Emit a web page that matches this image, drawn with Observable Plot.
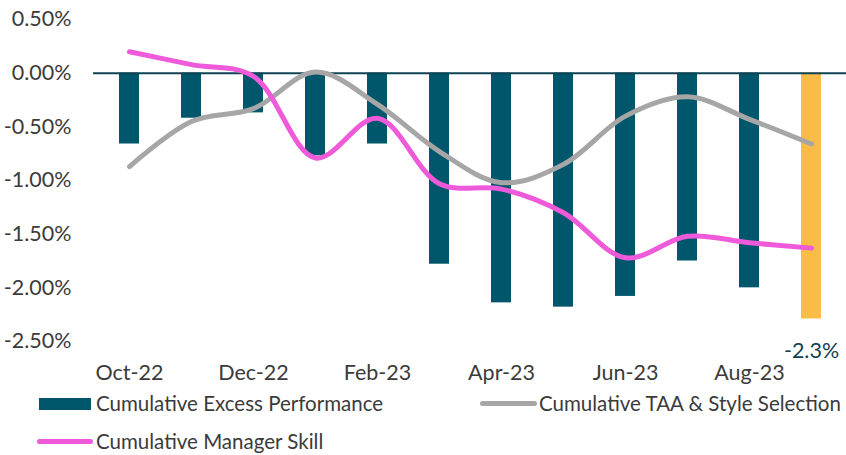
<!DOCTYPE html>
<html>
<head>
<meta charset="utf-8">
<script src="https://cdn.jsdelivr.net/npm/d3@7"></script>
<script src="https://cdn.jsdelivr.net/npm/@observablehq/plot@0.6"></script>
<style>
  html, body { margin: 0; padding: 0; background: #fff; }
  body { width: 846px; height: 455px; overflow: hidden; font-family: Lato, "Noto Sans", sans-serif; }
  #chart svg { display: block; }
  #legend { position: relative; height: 63px; font-size: 20.5px; color: #3b3b3b; }
  .item { position: absolute; display: flex; align-items: center; white-space: nowrap; line-height: 25px; }
  .sw { display: inline-block; }
</style>
</head>
<body>
<div id="chart"></div>
<div id="legend">
  <div class="item" style="left:39px; top:-1px;"><span class="sw" style="width:52px;height:12px;background:#00566A;margin-right:5px"></span>Cumulative Excess Performance</div>
  <div class="item" style="left:480px; top:-1px;"><span class="sw" style="width:57px;height:5px;border-radius:3px;background:#A6A6A6;margin-right:2px"></span>Cumulative TAA &amp; Style Selection</div>
  <div class="item" style="left:37px; top:37px;"><span class="sw" style="width:56px;height:5px;border-radius:3px;background:#EE5AD9;margin-right:3px"></span>Cumulative Manager Skill</div>
</div>
<script>
const months = ["Oct-22","Nov-22","Dec-22","Jan-23","Feb-23","Mar-23","Apr-23","May-23","Jun-23","Jul-23","Aug-23","Sep-23"];
const excess = [-0.66, -0.42, -0.37, -0.77, -0.66, -1.78, -2.14, -2.18, -2.08, -1.75, -2.00, -2.29];
const taa = [-0.87, -0.45, -0.33, 0.01, -0.29, -0.73, -1.02, -0.85, -0.40, -0.22, -0.43, -0.66];
const skill = [0.20, 0.08, -0.03, -0.79, -0.42, -1.03, -1.08, -1.30, -1.72, -1.52, -1.58, -1.63];
const xTicks = ["Oct-22","Dec-22","Feb-23","Apr-23","Jun-23","Aug-23"];
const yTicks = [0.5, 0, -0.5, -1, -1.5, -2, -2.5];
const lastLabel = "-2.3%";

const bars = months.map((m, i) => ({month: m, value: excess[i], last: i === months.length - 1}));
const taaData = months.map((m, i) => ({month: m, value: taa[i]}));
const skillData = months.map((m, i) => ({month: m, value: skill[i]}));

const chart = Plot.plot({
  width: 846,
  height: 392,
  marginLeft: 93,
  marginRight: 0,
  marginTop: 19,
  marginBottom: 51,
  style: {fontFamily: "Lato, 'Noto Sans', sans-serif", fontSize: "21.5px", color: "#3b3b3b", background: "#fff"},
  x: {domain: months, paddingInner: 0.68, paddingOuter: 0.34, align: 0.5},
  y: {domain: [-2.5, 0.5]},
  marks: [
    Plot.barY(bars, {x: "month", y: "value", fill: d => d.last ? "#F9BC47" : "#00566A"}),
    Plot.ruleY([0], {stroke: "#0E4354", strokeWidth: 2}),
    Plot.lineY(taaData, {x: "month", y: "value", stroke: "#A6A6A6", strokeWidth: 5, curve: "catmull-rom", strokeLinecap: "round"}),
    Plot.lineY(skillData, {x: "month", y: "value", stroke: "#EE5AD9", strokeWidth: 5, curve: "catmull-rom", strokeLinecap: "round"}),
    Plot.text([bars[bars.length - 1]], {x: "month", y: "value", text: () => lastLabel, dy: 32, fill: "#0E4354", fontSize: 21.5}),
    Plot.axisX({ticks: xTicks, tickSize: 0, tickPadding: 23, fontSize: 21.5, fill: "#3b3b3b", label: null}),
    Plot.axisY({ticks: yTicks, tickSize: 0, tickPadding: 22, tickFormat: d => d.toFixed(2) + "%", fontSize: 21.5, fill: "#3b3b3b", label: null})
  ]
});
document.getElementById("chart").appendChild(chart);
</script>
</body>
</html>
